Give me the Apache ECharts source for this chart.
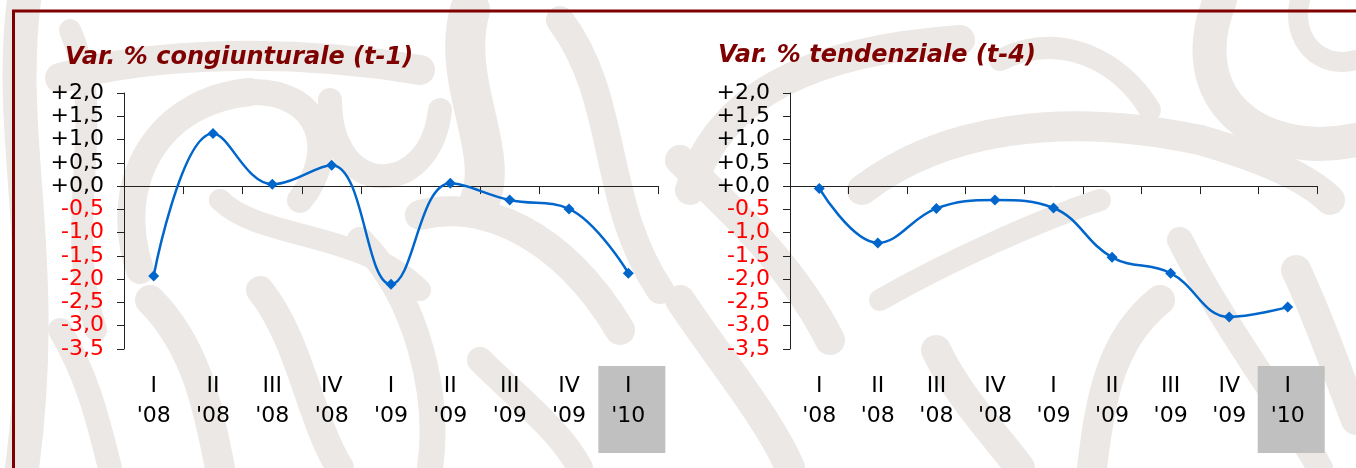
<!DOCTYPE html>
<html>
<head>
<meta charset="utf-8">
<script src="https://cdn.jsdelivr.net/npm/echarts@6/dist/echarts.min.js"></script>
<style>
  html, body { margin: 0; padding: 0; background: #fff; }
  #chart { width: 1356px; height: 468px; }
</style>
</head>
<body>
<div id="chart"></div>
<script>
// trimestri
const categories = ["I\n'08", "II\n'08", "III\n'08", "IV\n'08", "I\n'09", "II\n'09", "III\n'09", "IV\n'09", "I\n'10"];
// variazioni %
const congiunturale = [-1.93, 1.13, 0.04, 0.45, -2.11, 0.06, -0.30, -0.49, -1.87];
const tendenziale = [-0.05, -1.22, -0.48, -0.30, -0.47, -1.53, -1.87, -2.81, -2.60];
const yMin = -3.5;
const yMax = 2.0;
const yStep = 0.5;
const titles = ['Var. % congiunturale (t-1)', 'Var. % tendenziale (t-4)'];

const FONT = 'DejaVu Sans';
const BLUE = '#0066cc';
const DARKRED = '#7f0000';
const SWIRL = '#ebe8e5';

const fmt = v => (v >= 0 ? '+' : '') + Number(v).toFixed(1).replace('.', ',');

const grids = [
    { left: 124, top: 93, width: 534, height: 256 },
    { left: 790, top: 93, width: 527, height: 256 }
];

let myChart = echarts.init(document.getElementById('chart'));

let xAxis = [];
let yAxis = [];
let series = [];
[congiunturale, tendenziale].forEach((data, i) => {
    // asse con linea sullo zero
    xAxis.push({
        gridIndex: i,
        type: 'category',
        data: categories,
        axisLine: { onZero: true, lineStyle: { color: '#222', width: 1 } },
        axisTick: { show: true, length: 8, lineStyle: { color: '#222' } },
        axisLabel: { show: false },
        splitLine: { show: false }
    });
    // etichette in basso
    xAxis.push({
        gridIndex: i,
        type: 'category',
        position: 'bottom',
        data: categories,
        axisLine: { show: false, onZero: false },
        axisTick: { show: false },
        axisLabel: {
            interval: 0,
            margin: 22,
            fontFamily: FONT,
            fontSize: 22,
            lineHeight: 30,
            color: '#000'
        }
    });
    yAxis.push({
        gridIndex: i,
        type: 'value',
        min: yMin,
        max: yMax,
        interval: yStep,
        axisLine: { show: true, lineStyle: { color: '#222' } },
        axisTick: { show: true, length: 7, lineStyle: { color: '#222' } },
        splitLine: { show: false },
        axisLabel: {
            margin: 20,
            fontFamily: FONT,
            fontSize: 22,
            formatter: fmt,
            color: v => Number(v) < 0 ? '#ff0000' : '#000'
        }
    });
    series.push({
        type: 'line',
        xAxisIndex: i * 2,
        yAxisIndex: i,
        data: data,
        smooth: 0.4,
        symbol: 'diamond',
        symbolSize: 11,
        lineStyle: { color: BLUE, width: 2.5 },
        itemStyle: { color: BLUE },
        z: 5
    });
});

// sfondo decorativo (motivo a volute): [x1, y1, cpx1, cpy1, cpx2, cpy2, x2, y2, spessore]
const swirls = [
    // pannello sinistro
    [24, 0, 6, 140, 50, 260, 22, 468, 34],
    [70, 30, 110, 120, 60, 220, 96, 330, 22],
    [60, 78, 160, 50, 300, 50, 420, 70, 30],
    [140, 270, 110, 180, 160, 100, 250, 92, 28],
    [250, 92, 320, 90, 340, 150, 300, 200, 26],
    [330, 100, 330, 200, 430, 200, 440, 110, 24],
    [470, 10, 450, 80, 500, 150, 480, 200, 40],
    [420, 215, 480, 200, 560, 230, 620, 330, 30],
    [560, 20, 620, 100, 600, 200, 660, 290, 28],
    [150, 300, 200, 350, 210, 420, 220, 468, 30],
    [260, 290, 300, 340, 310, 420, 340, 468, 28],
    [360, 240, 420, 300, 440, 400, 430, 468, 26],
    [480, 360, 520, 400, 560, 430, 580, 468, 26],
    [60, 330, 90, 380, 100, 430, 110, 468, 24],
    [220, 200, 260, 240, 360, 230, 420, 290, 22],
    // pannello destro
    [690, 190, 720, 90, 820, 50, 960, 40, 30],
    [862, 190, 940, 130, 1060, 110, 1200, 140, 30],
    [1200, 140, 1270, 160, 1310, 180, 1330, 200, 30],
    [1220, 0, 1180, 100, 1260, 160, 1356, 140, 34],
    [1300, 0, 1290, 40, 1320, 70, 1356, 60, 20],
    [1296, 270, 1320, 320, 1340, 380, 1356, 420, 30],
    [1180, 240, 1220, 320, 1280, 400, 1320, 468, 26],
    [936, 350, 960, 400, 1000, 440, 1020, 468, 30],
    [1092, 468, 1100, 400, 1110, 340, 1160, 300, 30],
    [680, 160, 720, 200, 790, 260, 830, 340, 30],
    [680, 300, 720, 360, 770, 420, 790, 468, 30],
    [1000, 60, 1060, 30, 1120, 60, 1150, 110, 22],
    [880, 300, 950, 260, 1040, 220, 1100, 200, 22]
];
let graphic = swirls.map(s => ({
    type: 'bezierCurve',
    z: -10,
    silent: true,
    shape: { x1: s[0], y1: s[1], cpx1: s[2], cpy1: s[3], cpx2: s[4], cpy2: s[5], x2: s[6], y2: s[7] },
    style: { fill: null, stroke: SWIRL, lineWidth: s[8], lineCap: 'round' }
}));
// cornice
graphic.push({
    type: 'line', z: 10, silent: true,
    shape: { x1: 12, y1: 11, x2: 1356, y2: 11 },
    style: { stroke: '#800000', lineWidth: 3 }
});
graphic.push({
    type: 'line', z: 10, silent: true,
    shape: { x1: 13.5, y1: 10, x2: 13.5, y2: 468 },
    style: { stroke: '#800000', lineWidth: 3 }
});

const option = {
    animation: false,
    backgroundColor: '#fff',
    title: [
        {
            text: titles[0], left: 60, top: 41,
            textStyle: { fontFamily: FONT, fontSize: 24, fontWeight: 'bold', fontStyle: 'italic', color: DARKRED }
        },
        {
            text: titles[1], left: 713, top: 39,
            textStyle: { fontFamily: FONT, fontSize: 24, fontWeight: 'bold', fontStyle: 'italic', color: DARKRED }
        }
    ],
    grid: grids,
    xAxis: xAxis,
    yAxis: yAxis,
    series: series,
    graphic: graphic
};

myChart.setOption(option);

// riquadro grigio sull'ultimo trimestre (sotto le etichette)
const last = categories.length - 1;
let boxes = [0, 1].map(i => {
    const cx = myChart.convertToPixel({ xAxisIndex: i * 2 + 1 }, categories[last]);
    const yb = grids[i].top + grids[i].height;
    return {
        type: 'rect', z: -5, silent: true,
        shape: { x: cx - 30, y: yb + 17, width: 67, height: 87 },
        style: { fill: '#c0c0c0' }
    };
});
myChart.setOption({ graphic: graphic.concat(boxes) });
</script>
</body>
</html>
